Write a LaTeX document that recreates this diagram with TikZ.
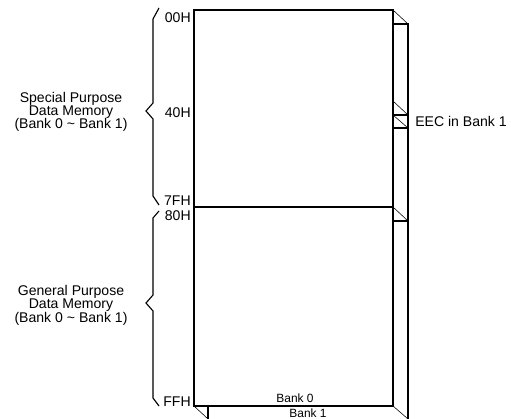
\documentclass[tikz,border=0pt]{standalone}
\usepackage{fontspec}
\setmainfont{Liberation Sans}
\usetikzlibrary{positioning}

\begin{document}
\begin{tikzpicture}[x=0.025cm, y=-0.025cm,
    font=\fontsize{10}{9.5}\selectfont,
    frame/.style={draw, line width=0.9pt},
    slant/.style={draw, line width=0.4pt},
    brace/.style={draw, line width=0.8pt, line join=miter},
    addr/.style={anchor=east, inner sep=0pt},
    desc/.style={align=center, inner sep=0pt},
    bank/.style={font=\fontsize{8.5}{9}\selectfont, inner sep=0pt}]

\useasboundingbox (0,0) rectangle (511,419);

% Bank 1 (back panel)
\draw[frame] (393,24) -- (408,24) -- (408,419);
\draw[frame] (208,406) -- (208,419);
\draw[frame] (393,115) -- (408,115);
\draw[frame] (393,128) -- (408,128);
\draw[frame] (393,221) -- (408,221);
\draw[slant] (393,10) -- (408,24);
\draw[slant] (393,101) -- (408,115);
\draw[slant] (393,115) -- (408,128);
\draw[slant] (393,207) -- (408,221);
\draw[slant] (194,406) -- (208,419);
\draw[slant] (393,406) -- (408,419);

% Bank 0 (front)
\draw[frame] (194,10) rectangle (393,406);
\draw[frame] (194,207) -- (393,207);

% braces
\draw[brace] (159,8) -- (153,19) -- (153,103) -- (146,111)
    -- (153,119) -- (153,196) -- (159,205);
\draw[brace] (159,211) -- (153,218) -- (153,295) -- (146,303)
    -- (153,311) -- (153,398) -- (159,406);

% addresses
\node[addr] (a00) at (191,18)  {00H};
\node[addr] (a40) at (191,113) {40H};
\node[addr] (a7f) at (191,201) {7FH};
\node[addr] (a80) at (191,216) {80H};
\node[addr] (aff) at (191,402) {FFH};

\node[desc] (special) at (71,112)
    {Special Purpose\\Data Memory\\(Bank 0 \textasciitilde{} Bank 1)};
\node[desc] (general) at (71,305)
    {General Purpose\\Data Memory\\(Bank 0 \textasciitilde{} Bank 1)};

\node[anchor=west, inner sep=0pt] (eec) at (415,121) {EEC in Bank 1};

\node[bank] (bank0) at (295,398) {Bank 0};
\node[bank] (bank1) at (308,413) {Bank 1};

\end{tikzpicture}
\end{document}
